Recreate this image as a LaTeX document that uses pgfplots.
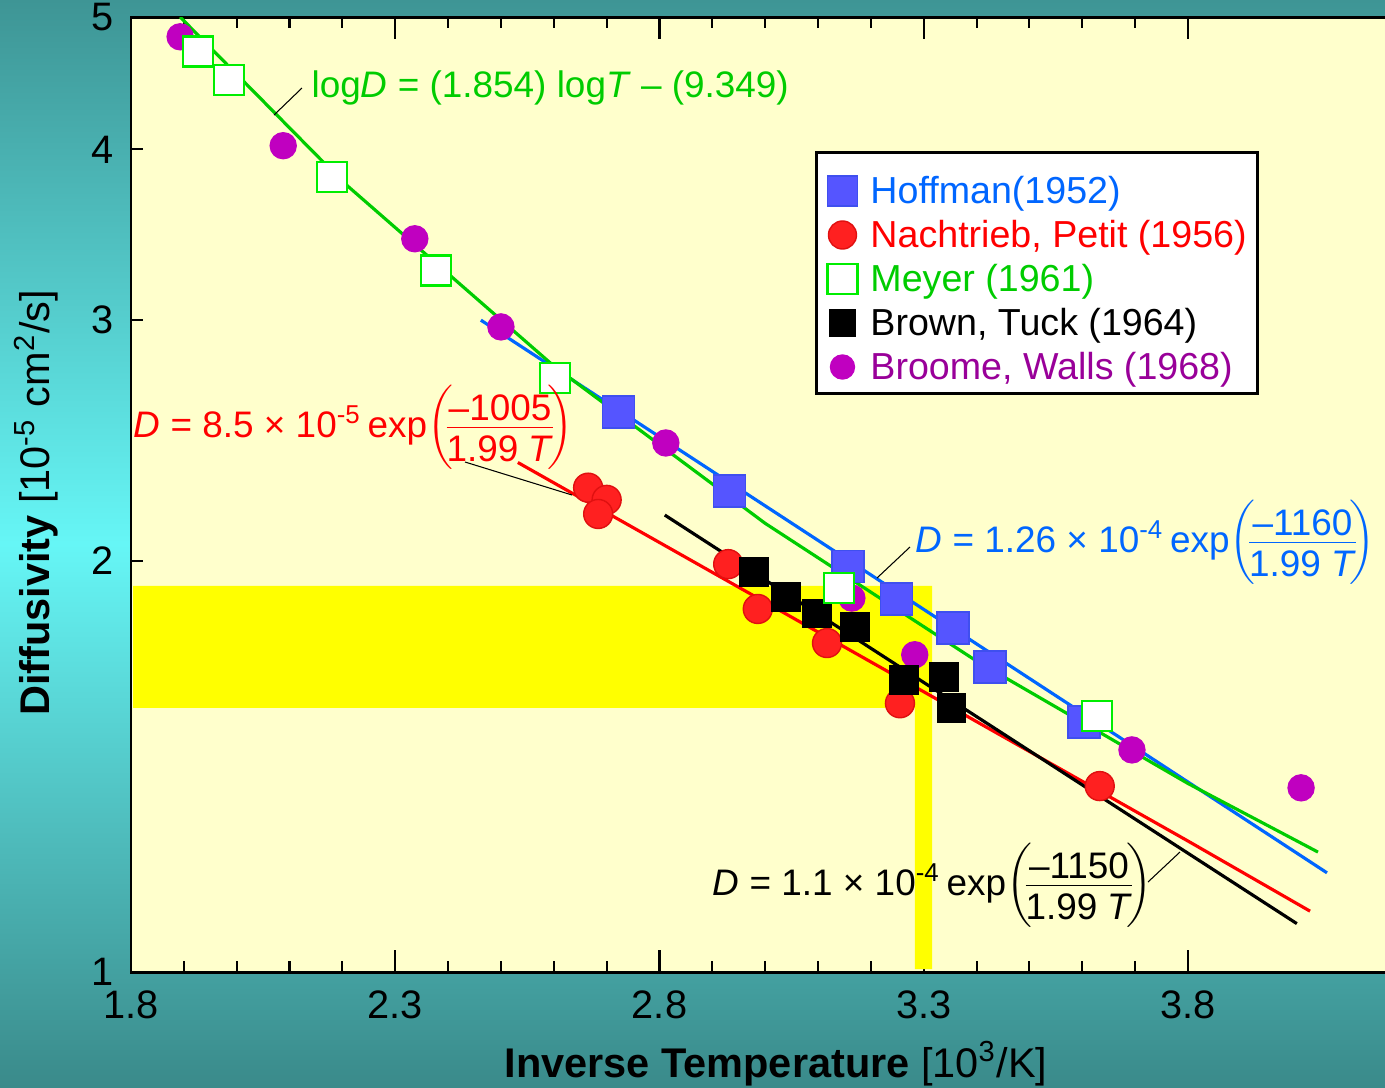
\documentclass[border=0pt]{standalone}
\usepackage{pgfplots}
\pgfplotsset{compat=1.18}
\usepackage{fontspec}
\setmainfont{Liberation Sans}
\definecolor{bgy}{HTML}{FFFFCC}
\definecolor{tealtop}{HTML}{3E9595}
\definecolor{tealbot}{HTML}{3A8A8A}
\definecolor{cyanc}{HTML}{66F6F6}
\definecolor{hblue}{HTML}{5555FF}
\definecolor{hbluee}{HTML}{3F4FEF}
\definecolor{lblue}{HTML}{0066FF}
\definecolor{nred}{HTML}{FF2020}
\definecolor{nrede}{HTML}{E01010}
\definecolor{mgreen}{HTML}{00EE00}
\definecolor{lgreen}{HTML}{00CC00}
\definecolor{bmag}{HTML}{C000C0}
\definecolor{bpurp}{HTML}{990099}
\definecolor{hy}{HTML}{FFFF00}

\pgfplotstableread{
x y
2.722 2.57
2.933 2.25
3.157 1.98
3.249 1.875
3.355 1.786
3.425 1.672
3.603 1.524
}\hoffman
\pgfplotstableread{
x y
2.665 2.262
2.700 2.216
2.684 2.164
2.930 1.989
2.986 1.844
3.117 1.741
3.255 1.573
3.633 1.368
}\nachtrieb
\pgfplotstableread{
x y
1.927 4.716
1.985 4.498
2.180 3.82
2.377 3.262
2.602 2.722
3.140 1.910
3.628 1.539
}\meyer
\pgfplotstableread{
x y
2.979 1.963
3.039 1.882
3.098 1.829
3.170 1.789
3.263 1.636
3.338 1.644
3.353 1.561
}\brown
\pgfplotstableread{
x y
1.893 4.836
2.088 4.025
2.337 3.441
2.500 2.966
2.812 2.439
3.164 1.878
3.283 1.707
3.694 1.454
4.014 1.364
}\broome

\nulldelimiterspace=0pt
\newcommand{\fr}[2]{$\biggl(\mskip-3mu\frac{\mbox{\rule[-1.5pt]{0pt}{1.5pt}#1}}{\mbox{\rule{0pt}{9pt}#2}}\mskip-3mu\biggr)$}

\begin{document}
\begin{tikzpicture}
\useasboundingbox (-13.1mm,-11.5mm) rectangle (125.4mm,97.2mm);
\shade[top color=tealtop, bottom color=tealbot, middle color=cyanc] (-13.1mm,-11.5mm) rectangle (125.4mm,97.2mm);
\begin{axis}[
  at={(0,0)}, anchor=south west, scale only axis,
  width=125.78mm, height=95.5mm,
  xmin=1.8, xmax=4.18, ymin=1, ymax=5, ymode=log,
  axis background/.style={fill=bgy},
  axis line style={line width=0.85pt},
  xtick={1.8,2.3,2.8,3.3,3.8}, xticklabels={1.8,2.3,2.8,3.3,3.8},
  minor x tick num=4,
  ytick={1,5}, yticklabels={1,5}, minor y tick num=0,
  ytick pos=left,
  extra y ticks={2,3,4}, extra y tick labels={2,3,4},
  extra y tick style={major tick length=1.2mm},
  tick align=inside, major tick length=2.2mm, minor tick length=1.1mm,
  every tick/.style={black, line width=0.6pt},
  ticklabel style={font=\fontsize{11.3}{13}\selectfont},
  xticklabel style={yshift=-0.6mm},
  yticklabel style={xshift=-0.5mm},
  legend image code/.code={\path[draw=none,fill=none] (0mm,0mm) rectangle (3mm,1mm); \draw[#1, only marks] plot coordinates {(1.5mm,1.3mm)};},
  legend style={at={(0.5438,0.8597)}, anchor=north west, draw=black, line width=0.85pt, fill=white,
    font=\fontsize{10.7}{12}\selectfont, inner xsep=1.1mm, inner ysep=1.05mm, row sep=0pt, column sep=1.3mm,
    cells={anchor=base west},
    nodes={inner xsep=0pt, inner ysep=0pt, text height=4.1mm, text depth=0.3mm}},
]
\addlegendimage{mark=square*, mark size=1.5mm, mark options={fill=hblue, draw=hbluee, line width=0.4pt}}
\addlegendentry{\textcolor{lblue}{Hoffman(1952)}}
\addlegendimage{mark=*, mark size=1.4mm, mark options={fill=nred, draw=nrede, line width=0.4pt}}
\addlegendentry{\textcolor{red}{Nachtrieb, Petit (1956)}}
\addlegendimage{mark=square, mark size=1.5mm, mark options={fill=white, draw=mgreen, line width=0.7pt}}
\addlegendentry{\textcolor{lgreen}{Meyer (1961)}}
\addlegendimage{mark=square*, mark size=1.3mm, mark options={fill=black, draw=black, line width=0.4pt}}
\addlegendentry{Brown, Tuck (1964)}
\addlegendimage{mark=*, mark size=1.2mm, mark options={fill=bmag, draw=bmag, line width=0.4pt}}
\addlegendentry{\textcolor{bpurp}{Broome, Walls (1968)}}

% highlight
\addplot[fill=hy, draw=none, forget plot] coordinates {(1.804,1.917) (3.316,1.917) (3.316,1.005) (3.283,1.005) (3.283,1.561) (1.804,1.561)} -- cycle;

% fitted lines
\addplot[lblue, line width=0.9pt, forget plot] coordinates {(2.462,3.00) (4.063,1.182)};
\addplot[lgreen, line width=0.9pt, forget plot] coordinates {(1.893,5.0) (2.2,3.79) (2.6,2.777) (3.0,2.13) (3.4,1.689) (3.8,1.374) (4.046,1.224)};
\addplot[red, line width=0.9pt, forget plot] coordinates {(2.532,2.36) (3.80,1.247) (4.031,1.108)};
\addplot[black, line width=0.9pt, forget plot] coordinates {(2.810,2.16) (4.006,1.085)};

% markers
\addplot[only marks, mark=*, mark size=1.3mm, mark options={fill=bmag, draw=bmag}, forget plot] table {\broome};
\addplot[only marks, mark=square*, mark size=1.6mm, mark options={fill=hblue, draw=hbluee, line width=0.4pt}, forget plot] table {\hoffman};
\addplot[only marks, mark=*, mark size=1.45mm, mark options={fill=nred, draw=nrede, line width=0.4pt}, forget plot] table {\nachtrieb};
\addplot[only marks, mark=square*, mark size=1.4mm, mark options={fill=black, draw=black}, forget plot] table {\brown};
\addplot[only marks, mark=square*, mark size=1.5mm, mark options={fill=white, draw=mgreen, line width=0.7pt}, forget plot] table {\meyer};
\end{axis}

% annotations
\begin{scope}[font=\fontsize{10.5}{12}\selectfont]
\node[anchor=base west, text=lgreen, inner sep=0pt] at (18.0mm,87.5mm) {log\textit{D} = (1.854) log\textit{T} – (9.349)};
\draw[black, line width=0.3pt] (14.3mm,85.7mm) -- (17.1mm,88.4mm);

\node[anchor=base west, text=red, inner sep=0pt] at (0.2mm,53.5mm) {\textit{D} = 8.5 × 10\textsuperscript{-5}\,exp\fr{–1005}{1.99 \textit{T}}};
\draw[black, line width=0.3pt] (33.4mm,51.0mm) -- (44.1mm,47.7mm);

\node[anchor=base west, text=lblue, inner sep=0pt] at (78.4mm,42.0mm) {\textit{D} = 1.26 × 10\textsuperscript{-4}\,exp\fr{–1160}{1.99 \textit{T}}};
\draw[black, line width=0.3pt] (74.6mm,39.4mm) -- (77.9mm,42.5mm);

\node[anchor=base west, text=black, inner sep=0pt] at (58.1mm,7.7mm) {\textit{D} = 1.1 × 10\textsuperscript{-4}\,exp\fr{–1150}{1.99 \textit{T}}};
\draw[black, line width=0.3pt] (101.7mm,9.0mm) -- (104.9mm,12.0mm);
\end{scope}

% axis labels
\node[anchor=base, font=\fontsize{11.8}{14}\selectfont, inner sep=0pt] at (64.5mm,-10.5mm) {\textbf{Inverse Temperature} [10\textsuperscript{3}/K]};
\node[rotate=90, anchor=base, font=\fontsize{11.8}{14}\selectfont, inner sep=0pt] at (-8.1mm,46.9mm) {\textbf{Diffusivity} [10\textsuperscript{-5} cm\textsuperscript{2}/s]};
\end{tikzpicture}
\end{document}
